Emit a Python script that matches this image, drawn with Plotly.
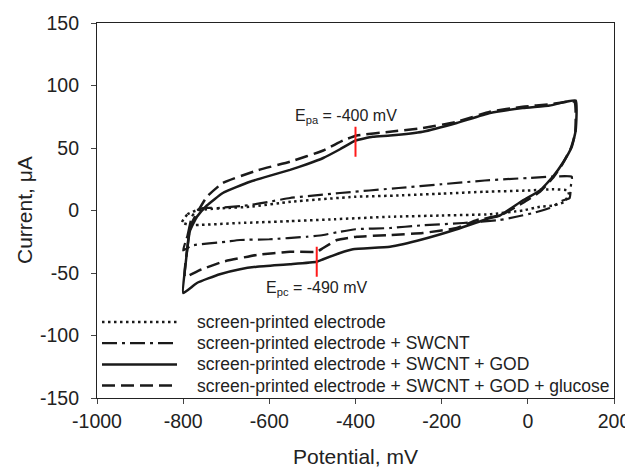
import plotly.graph_objects as go

# Potential (mV) and current (uA)
spe_v = [-803, -790, -770, -745, -700, -645, -550, -400, -300, -200, -100, 0, 60, 93,
         95, 85, 60, 28, -12, -88, -200, -320, -450, -550, -668, -784, -803]
spe_i = [-9.6, -3, 0, 1, 2, 3, 7, 11, 12, 13.5, 15, 16, 17, 16,
         13, 7, 4, 3, 0, -3, -4, -5, -7, -8.5, -10, -11.6, -9.6]

swcnt_v = [-800, -790, -780, -770, -754, -720, -645, -600, -552, -436, -300, -200, -100, 0, 102,
           100, 97, 81, 51, 12, -27, -65, -150, -250, -320, -400, -436, -475, -513, -600, -668, -700, -780, -800]
swcnt_i = [-32, -20, -5, 0, 2, 2, 4.4, 7, 10, 14, 18, 21, 24, 26, 27,
           20, 10, 8, 2, -2, -5, -7.6, -10, -12, -14, -15, -17, -19.6, -21, -23, -23.6, -25, -28, -32]

god_v = [-800, -795, -784, -768, -745, -708, -645, -592, -552, -513, -475, -436, -400, -360, -320,
         -244, -165, -88, -12, 51, 111,
         111, 102, 81, 58, 28, -12, -65, -88, -165, -244, -320, -406, -436, -475, -490, -552,
         -629, -668, -715, -768, -800]
god_i = [-66, -45, -16, -5, 4, 14, 23, 28.5, 32.5, 37, 42, 49, 56, 59, 60,
         63, 70, 78, 82, 84, 88,
         64, 51, 38, 27, 16, 8, -4, -6, -15, -23, -29, -31, -34, -39, -41, -43,
         -45, -47, -51, -58, -66]

glu_v = [-796, -790, -784, -768, -745, -708, -629, -552, -475, -429, -397, -320, -244, -165, -88, -12, 51, 108,
         110, 100, 80, 58, 28, -12, -65, -118, -165, -244, -320, -397, -443, -475, -490, -552, -629, -708, -761, -796]
glu_i = [-53, -29, -13, -2, 11, 22, 32, 39, 48, 56, 60, 63, 66, 71, 79, 83, 85, 87,
         62, 50, 37, 26, 15, 6, -4, -7.6, -14, -18, -19.6, -21, -23.6, -30, -33, -33, -35.6, -41, -47.6, -53]

series_names = ["screen-printed electrode",
                "screen-printed electrode + SWCNT",
                "screen-printed electrode + SWCNT + GOD",
                "screen-printed electrode + SWCNT + GOD + glucose"]

# peak markers
epa_v = [-400, -400]
epa_i = [43, 67]
epc_v = [-490, -490]
epc_i = [-29, -53]

x_ticks = [-1000, -800, -600, -400, -200, 0, 200]
x_tick_text = ["-1000", "-800", "-600", "-400", "-200", "0", "200"]
y_ticks = [-150, -100, -50, 0, 50, 100, 150]
y_tick_text = ["-150", "-100", "-50", "0", "50", "100", "150"]

FONT = "Liberation Sans, Arial, sans-serif"
INK = "#222222"

# The page body has an 8 px default margin: size the figure so the plot area
# lands at window pixels x 97..614, y 23..398.
OFF = 8
WIN_W, WIN_H = 633, 473
W, H = WIN_W - OFF, WIN_H - OFF
PL, PR, PT, PB = 97, 614, 23, 398          # plot area in window pixels
L, R, T, B = PL - OFF, WIN_W - PR, PT - OFF, WIN_H - PB
pw, ph = PR - PL, PB - PT


def px_x(x):
    return (x - PL) / pw


def px_y(y):
    return (PB - y) / ph


fig = go.Figure()
styles = [
    dict(dash="2.5px,3.5px", width=2.5),
    dict(dash="15px,5px,3px,5px", width=2.2),
    dict(dash="solid", width=2.5),
    dict(dash="13px,6px", width=2.5),
]
data = [(spe_v, spe_i), (swcnt_v, swcnt_i), (god_v, god_i), (glu_v, glu_i)]
for (v, i), name, st in zip(data, series_names, styles):
    fig.add_trace(go.Scatter(x=v, y=i, mode="lines", name=name, showlegend=False,
                             line=dict(color="#1a1a1a", width=st["width"], dash=st["dash"],
                                       shape="spline", smoothing=0.4)))

for v, i in [(epa_v, epa_i), (epc_v, epc_i)]:
    fig.add_trace(go.Scatter(x=v, y=i, mode="lines", showlegend=False,
                             line=dict(color="#ff1a1a", width=2)))

fig.add_annotation(x=-422, y=75, text="E<sub>pa</sub> = -400 mV", showarrow=False,
                   font=dict(family=FONT, size=16, color=INK))
fig.add_annotation(x=-490, y=-62, text="E<sub>pc</sub> = -490 mV", showarrow=False,
                   font=dict(family=FONT, size=16, color=INK))

# legend drawn by hand (sample lines + text), rows 21 px apart
row0, gap = 322, 21.2
for k, (name, st) in enumerate(zip(series_names, styles)):
    py = row0 + k * gap
    fig.add_shape(type="line", xref="paper", yref="paper",
                  x0=px_x(102), x1=px_x(177), y0=px_y(py), y1=px_y(py),
                  line=dict(color="#1a1a1a", width=st["width"], dash=st["dash"]))
    fig.add_annotation(xref="paper", yref="paper", x=px_x(195), y=px_y(py),
                       xanchor="left", yanchor="middle", text=name, showarrow=False,
                       font=dict(family=FONT, size=17.5, color=INK))

# axis titles as text placed by pixel position
fig.add_annotation(xref="paper", yref="paper", x=px_x(24), y=px_y(210),
                   text="Current, μA", textangle=-90, showarrow=False,
                   xanchor="center", yanchor="middle",
                   font=dict(family=FONT, size=21, color=INK))
fig.add_annotation(xref="paper", yref="paper", x=px_x(355), y=px_y(456),
                   text="Potential, mV", showarrow=False,
                   xanchor="center", yanchor="middle",
                   font=dict(family=FONT, size=21, color=INK))

fig.update_layout(
    width=W, height=H,
    margin=dict(l=L, r=R, t=T, b=B),
    paper_bgcolor="white", plot_bgcolor="white",
    font=dict(family=FONT, size=19.5, color=INK),
    showlegend=False,
    xaxis=dict(range=[-1000, 200], tickvals=x_ticks, ticktext=x_tick_text,
               ticks="outside", ticklen=5,
               showline=True, linecolor=INK, linewidth=1.2, mirror=True,
               showgrid=False, zeroline=False, automargin=False),
    yaxis=dict(range=[-150, 150], tickvals=y_ticks, ticktext=y_tick_text,
               ticks="outside", ticklen=5,
               showline=True, linecolor=INK, linewidth=1.2, mirror=True,
               showgrid=False, zeroline=False, automargin=False, ticklabelstandoff=8),
)

fig.write_html("out.html")
